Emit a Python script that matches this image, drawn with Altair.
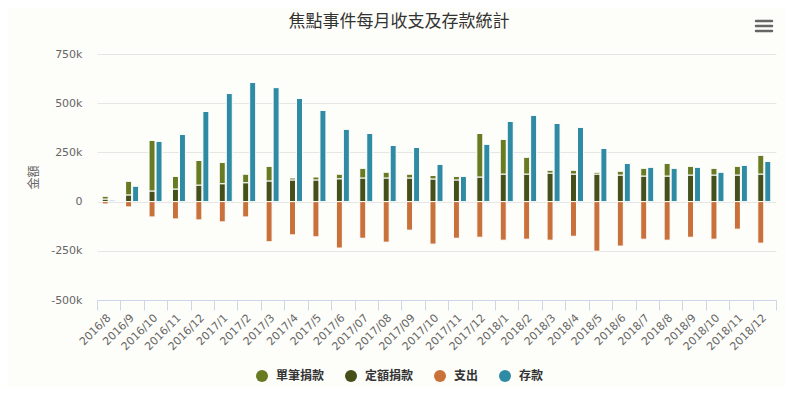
import altair as alt
import pandas as pd

months = ["2016/8", "2016/9", "2016/10", "2016/11", "2016/12",
          "2017/1", "2017/2", "2017/3", "2017/4", "2017/5", "2017/6", "2017/07",
          "2017/08", "2017/09", "2017/10", "2017/11", "2017/12",
          "2018/1", "2018/2", "2018/3", "2018/4", "2018/5", "2018/6", "2018/7",
          "2018/8", "2018/9", "2018/10", "2018/11", "2018/12"]

single = [14, 69, 257, 64, 125,
          108, 43, 74, 10, 15, 23, 49, 29, 19, 18, 18, 221,
          176, 85, 14, 19, 9, 19, 39, 64, 44, 34, 44, 95]

regular = [13, 34, 54, 64, 84,
           91, 96, 105, 110, 110, 116, 120, 120, 120, 115, 110, 125,
           140, 140, 145, 140, 140, 135, 130, 130, 135, 135, 135, 140]

expense = [-12, -27, -78, -88, -93,
           -103, -78, -204, -169, -179, -236, -186, -206, -145, -216, -186, -181,
           -196, -191, -196, -176, -252, -226, -191, -196, -181, -191, -140, -211]

savings = [7, 78, 306, 341, 458,
           549, 605, 579, 524, 463, 367, 346, 285, 275, 189, 128, 291,
           407, 438, 397, 377, 270, 194, 174, 169, 174, 149, 184, 204]

series_names = ["單筆捐款", "定額捐款", "支出", "存款"]
series_colors = ["#687b22", "#454f19", "#c8713a", "#2e8ba3"]
y_ticks = [-500000, -250000, 0, 250000, 500000, 750000]
title_text = "焦點事件每月收支及存款統計"

rows = []
for i, m in enumerate(months):
    rows.append({"month": m, "series": "定額捐款", "value": regular[i] * 1000, "grp": "a", "ord": 0})
    rows.append({"month": m, "series": "單筆捐款", "value": single[i] * 1000, "grp": "a", "ord": 1})
    rows.append({"month": m, "series": "支出", "value": expense[i] * 1000, "grp": "a", "ord": 2})
    rows.append({"month": m, "series": "存款", "value": savings[i] * 1000, "grp": "b", "ord": 0})
df = pd.DataFrame(rows)

W, H = 679, 246
FONT = "DejaVu Sans"
CJK = "Noto Sans CJK TC"

bars = alt.Chart(df).mark_bar(stroke="white", strokeWidth=1).encode(
    x=alt.X("month:N", sort=months,
            scale=alt.Scale(paddingInner=0, paddingOuter=0),
            axis=alt.Axis(title=None, labelAngle=-45, labelAlign="right",
                          labelBaseline="middle", labelColor="#666666",
                          labelFont=FONT, labelFontSize=11, labelPadding=6,
                          tickBand="extent", tickColor="#ccd6eb", tickSize=10,
                          domainColor="#ccd6eb", grid=False, labelOverlap=False)),
    xOffset=alt.XOffset("grp:N", scale=alt.Scale(domain=["a", "b"], paddingInner=0.143, paddingOuter=0.744)),
    y=alt.Y("value:Q", stack="zero",
            scale=alt.Scale(domain=[-500000, 750000], nice=False, zero=False),
            axis=alt.Axis(title="金額", values=y_ticks,
                          labelExpr="datum.value == 0 ? '0' : (datum.value / 1000) + 'k'",
                          labelColor="#666666", labelFont=FONT, labelFontSize=11,
                          labelPadding=15, domain=False, ticks=False,
                          gridColor="#e6e6e6", titleColor="#666666", titleFont=CJK,
                          titleFontSize=12, titleFontWeight="normal", titlePadding=10)),
    color=alt.Color("series:N",
                    scale=alt.Scale(domain=series_names, range=series_colors),
                    legend=alt.Legend(title=None, orient="none", direction="horizontal",
                                      legendX=159, legendY=316, symbolType="circle",
                                      symbolSize=144, symbolStrokeWidth=0,
                                      labelFont=CJK, labelFontSize=12,
                                      labelFontWeight="bold", labelColor="#333333",
                                      columnPadding=20, labelOffset=8)),
    order=alt.Order("ord:Q"),
)

one = alt.Data(values=[{"k": 1}])

title = alt.Chart(one).mark_text(font=CJK, fontSize=17, color="#333333",
                                 align="center", baseline="middle").encode(
    x=alt.value(302), y=alt.value(-32), text=alt.value(title_text))

menu = [
    alt.Chart(one).mark_rule(color="#666666", strokeWidth=2.5, strokeCap="round").encode(
        x=alt.value(659), x2=alt.value(675), y=alt.value(yy))
    for yy in (-33, -28, -23)
]

chart = alt.layer(bars, title, *menu).properties(
    width=W, height=H,
    autosize="none",
    padding={"left": 89, "top": 46, "right": 9, "bottom": 87},
    background="#fdfdf9",
).configure_view(stroke=None)

chart.save("out.html", embed_options={"renderer": "svg", "actions": False})
